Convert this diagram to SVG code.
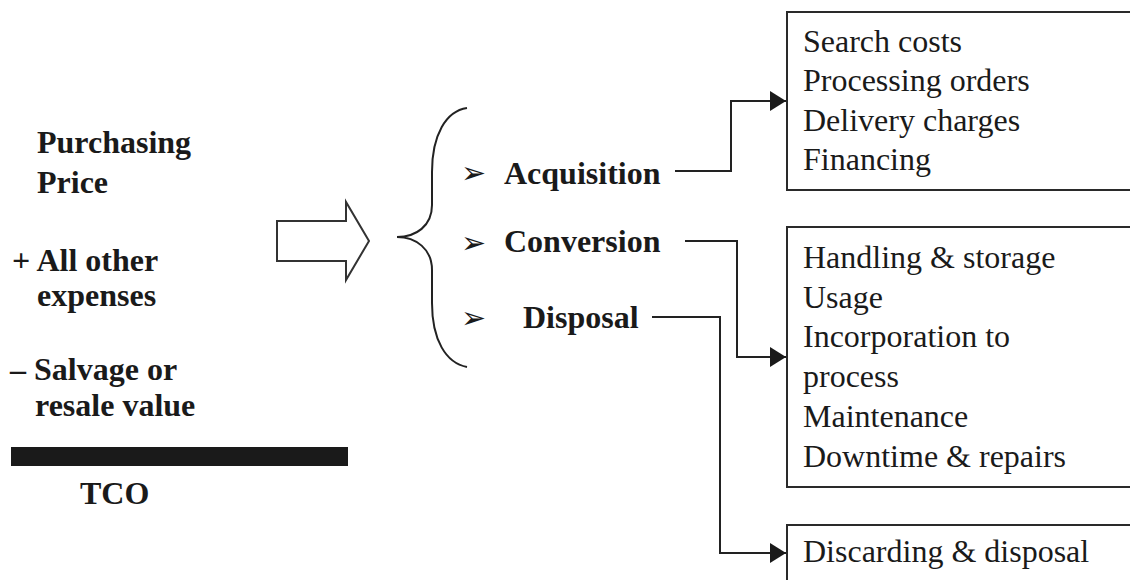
<svg xmlns="http://www.w3.org/2000/svg" width="1130" height="580" viewBox="0 0 1130 580">
<defs>
<style>
.b{font-family:'Liberation Serif','Times New Roman','DejaVu Serif',serif;font-weight:bold;font-size:32px;fill:#1a1a1a}
.r{font-family:'Liberation Serif','Times New Roman','DejaVu Serif',serif;font-size:32px;fill:#1a1a1a}
.bul{font-family:'DejaVu Sans',sans-serif;font-size:30px;fill:#1a1a1a}
.box{fill:#fff;stroke:#2a2a2a;stroke-width:2}
.con{fill:none;stroke:#222;stroke-width:2}
</style>
<marker id="ah" markerUnits="userSpaceOnUse" markerWidth="18" markerHeight="22" refX="16" refY="10" orient="auto">
<path d="M0,0 L16,10 L0,20 Z" fill="#1a1a1a"/>
</marker>
</defs>
<rect width="1130" height="580" fill="#fff"/>

<g id="formula">
<text class="b" x="37" y="153">Purchasing</text>
<text class="b" x="37" y="193">Price</text>
<text class="b" x="12" y="271">+ All other</text>
<text class="b" x="37" y="306">expenses</text>
<text class="b" x="10" y="380">– Salvage or</text>
<text class="b" x="35" y="416">resale value</text>
<rect x="11" y="447" width="337" height="19" fill="#1a1a1a"/>
<text class="b" x="80" y="504">TCO</text>
</g>

<g id="block-arrow">
<path d="M277,221 L346,221 L346,202 L369,241 L346,280 L346,261 L277,261 Z" fill="#fff" stroke="#333" stroke-width="2" stroke-linejoin="miter"/>
</g>

<g id="brace">
<path d="M467,108 C446,111 432,135 432,172 L432,205 C432,226 416,237 397,237 C416,237 432,249 432,270 L432,303 C432,340 446,363 467,367" fill="none" stroke="#222" stroke-width="2"/>
</g>

<g id="acquisition">
<text class="bul" x="461" y="183">➢</text>
<text class="b" x="504" y="184">Acquisition</text>
</g>
<g id="conversion">
<text class="bul" x="461" y="253">➢</text>
<text class="b" x="504" y="252">Conversion</text>
</g>
<g id="disposal">
<text class="bul" x="461" y="328">➢</text>
<text class="b" x="523" y="328">Disposal</text>
</g>

<g id="box-acquisition">
<rect class="box" x="787" y="12" width="360" height="178"/>
<text class="r" x="803" y="52">Search costs</text>
<text class="r" x="803" y="91">Processing orders</text>
<text class="r" x="803" y="131">Delivery charges</text>
<text class="r" x="803" y="170">Financing</text>
</g>

<g id="box-conversion">
<rect class="box" x="787" y="227" width="360" height="260"/>
<text class="r" x="803" y="268">Handling &amp; storage</text>
<text class="r" x="803" y="308">Usage</text>
<text class="r" x="803" y="347">Incorporation to</text>
<text class="r" x="803" y="387">process</text>
<text class="r" x="803" y="427">Maintenance</text>
<text class="r" x="803" y="467">Downtime &amp; repairs</text>
</g>

<g id="box-disposal">
<rect class="box" x="787" y="525" width="360" height="80"/>
<text class="r" x="803" y="562">Discarding &amp; disposal</text>
</g>

<g id="connectors">
<path class="con" d="M675,171 L731,171 L731,101 L786,101" marker-end="url(#ah)"/>
<path class="con" d="M685,241 L737,241 L737,357 L786,357" marker-end="url(#ah)"/>
<path class="con" d="M652,317 L720,317 L720,553 L786,553" marker-end="url(#ah)"/>
</g>
</svg>
